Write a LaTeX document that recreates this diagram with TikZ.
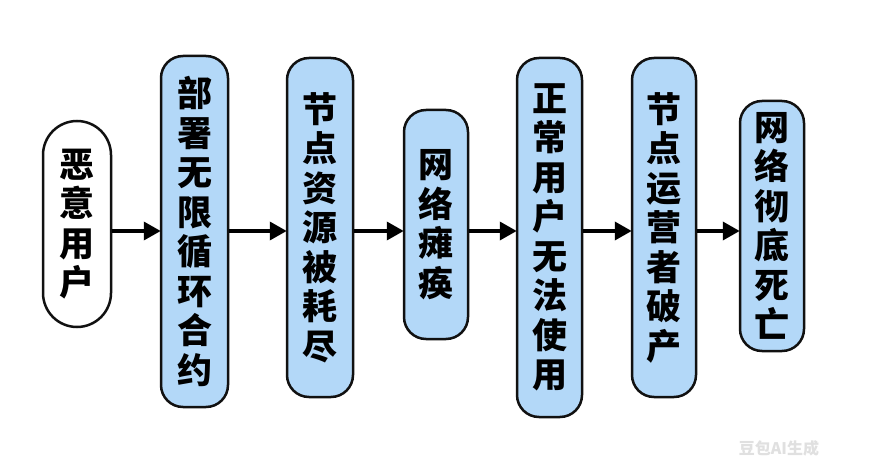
\documentclass[tikz,border=0pt]{standalone}
\usepackage{fontspec}
\newfontfamily\cjk{Noto Sans CJK SC}
\usetikzlibrary{arrows.meta}
\definecolor{boxblue}{HTML}{B3D8F8}
\definecolor{edge}{HTML}{111111}
\tikzset{
  stagebox/.style={draw=edge, line width=2.5pt, fill=boxblue, rounded corners=22pt,
    inner sep=0pt, align=center,
    font=\cjk\bfseries\fontsize{35}{39.5}\selectfont},
  startbox/.style={stagebox, fill=white, rounded corners=34pt},
  flow/.style={draw=black, line width=3.6pt, -{Triangle[length=17pt,width=18pt]}, shorten >=-1pt}
}
\begin{document}
\begin{tikzpicture}[x=1pt,y=-1pt]
\useasboundingbox (0,0) rectangle (880,465);
\fill[white] (0,0) rectangle (880,465);
\coordinate (ay) at (0,231);
\node[startbox, minimum width=68pt, minimum height=206pt] (n1) at (77,224) {恶\\意\\用\\户};
\node[stagebox, minimum width=67pt, minimum height=351pt] (n2) at (194.5,231.5) {部\\署\\无\\限\\循\\环\\合\\约};
\node[stagebox, minimum width=66pt, minimum height=339pt] (n3) at (320,227.5) {节\\点\\资\\源\\被\\耗\\尽};
\node[stagebox, minimum width=64pt, minimum height=229pt] (n4) at (436,224.5) {网\\络\\瘫\\痪};
\node[stagebox, minimum width=65pt, minimum height=359pt] (n5) at (549.5,237.5) {正\\常\\用\\户\\无\\法\\使\\用};
\node[stagebox, minimum width=64pt, minimum height=339pt] (n6) at (664,227.5) {节\\点\\运\\营\\者\\破\\产};
\node[stagebox, minimum width=64pt, minimum height=250pt] (n7) at (772,226) {网\\络\\彻\\底\\死\\亡};
\draw[flow] (n1.east |- ay) -- (n2.west |- ay);
\draw[flow] (n2.east |- ay) -- (n3.west |- ay);
\draw[flow] (n3.east |- ay) -- (n4.west |- ay);
\draw[flow] (n4.east |- ay) -- (n5.west |- ay);
\draw[flow] (n5.east |- ay) -- (n6.west |- ay);
\draw[flow] (n6.east |- ay) -- (n7.west |- ay);
\node[text=black!12, font=\cjk\bfseries\fontsize{16}{18}\selectfont, inner sep=0pt] (wm) at (779,448) {豆包AI生成};
\end{tikzpicture}
\end{document}
